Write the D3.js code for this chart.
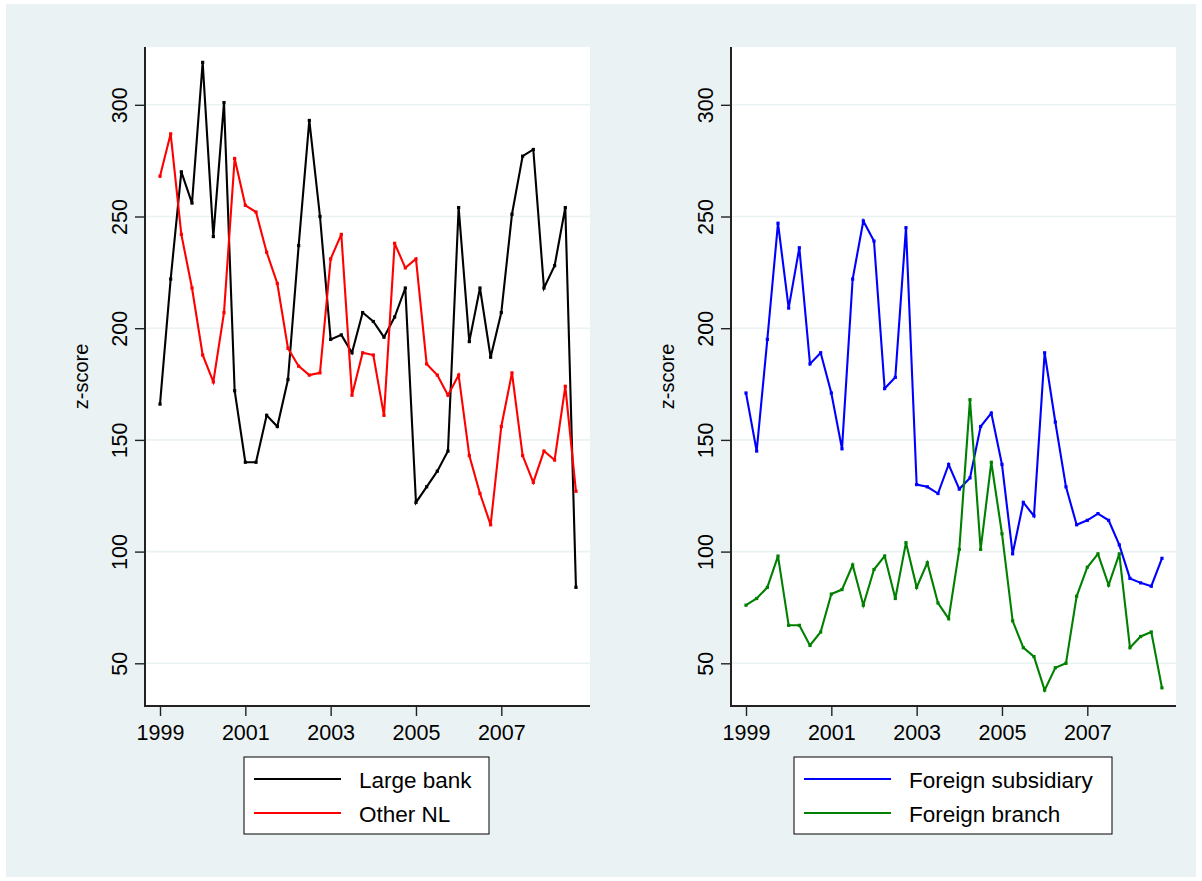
<!DOCTYPE html>
<html>
<head>
<meta charset="utf-8">
<script src="https://cdn.jsdelivr.net/npm/d3@7"></script>
<style>
  html, body { margin: 0; padding: 0; background: #ffffff; }
  svg { display: block; font-family: "Liberation Sans", Arial, Helvetica, sans-serif; }
</style>
</head>
<body>
<svg id="chart" width="1202" height="881"></svg>
<script>
// ---------------- DATA ----------------
const quarters = [
  "1999Q1","1999Q2","1999Q3","1999Q4","2000Q1","2000Q2","2000Q3","2000Q4",
  "2001Q1","2001Q2","2001Q3","2001Q4","2002Q1","2002Q2","2002Q3","2002Q4",
  "2003Q1","2003Q2","2003Q3","2003Q4","2004Q1","2004Q2","2004Q3","2004Q4",
  "2005Q1","2005Q2","2005Q3","2005Q4","2006Q1","2006Q2","2006Q3","2006Q4",
  "2007Q1","2007Q2","2007Q3","2007Q4","2008Q1","2008Q2","2008Q3","2008Q4"
];

const largeBank = [
  166, 222, 270, 256, 319, 241, 301, 172,
  140, 140, 161, 156, 177, 237, 293, 250,
  195, 197, 189, 207, 203, 196, 205, 218,
  122, 129, 136, 145, 254, 194, 218, 187,
  207, 251, 277, 280, 218, 228, 254, 84
];

const otherNL = [
  268, 287, 242, 218, 188, 176, 207, 276,
  255, 252, 234, 220, 191, 183, 179, 180,
  231, 242, 170, 189, 188, 161, 238, 227,
  231, 184, 179, 170, 179, 143, 126, 112,
  156, 180, 143, 131, 145, 141, 174, 127
];

const foreignSubsidiary = [
  171, 145, 195, 247, 209, 236, 184, 189,
  171, 146, 222, 248, 239, 173, 178, 245,
  130, 129, 126, 139, 128, 133, 156, 162,
  139, 99, 122, 116, 189, 158, 129, 112,
  114, 117, 114, 103, 88, 86, 84.5, 97
];

const foreignBranch = [
  76, 79, 84, 98, 67, 67, 58, 64,
  81, 83, 94, 76, 92, 98, 79, 104,
  84, 95, 77, 70, 101, 168, 101, 140,
  108, 69, 57, 53, 38, 48, 50, 80,
  93, 99, 85, 99, 57, 62, 64, 39
];

const yTicks = [50, 100, 150, 200, 250, 300];
const xTicks = [1999, 2001, 2003, 2005, 2007];
const yTitle = "z-score";

const panels = [
  { series: [
      { name: "Large bank", values: largeBank, color: "#000000" },
      { name: "Other NL", values: otherNL, color: "#ff0000" } ] },
  { series: [
      { name: "Foreign subsidiary", values: foreignSubsidiary, color: "#0000ff" },
      { name: "Foreign branch", values: foreignBranch, color: "#008000" } ] }
];

// ---------------- LAYOUT ----------------
const svg = d3.select("#chart");
const bg = "#eaf2f3";
const gridColor = "#eaf2f3";
const axisColor = "#222222";

svg.append("rect").attr("x", 6).attr("y", 4).attr("width", 1190).attr("height", 873)
  .attr("fill", bg);

const parseQ = s => +s.slice(0, 4) + (+s.slice(5) - 1) / 4;
const xVals = quarters.map(parseQ);

const plotTop = 47, plotBottom = 706, plotW = 445;
const panelX = [145, 731];
const legendBox = [
  { x: 244, w: 245 },
  { x: 794, w: 318 }
];

const y = d3.scaleLinear().domain([50, 300]).range([663.3, 104.8]);

panels.forEach((p, pi) => {
  const x0 = panelX[pi];
  const x = d3.scaleLinear().domain([1999, 2007]).range([x0 + 15, x0 + 15 + 341.3]);
  const g = svg.append("g");

  // plot region
  g.append("rect").attr("x", x0).attr("y", plotTop).attr("width", plotW)
    .attr("height", plotBottom - plotTop).attr("fill", "#ffffff");

  // gridlines
  g.selectAll(".grid").data(yTicks).join("line")
    .attr("x1", x0).attr("x2", x0 + plotW)
    .attr("y1", d => y(d)).attr("y2", d => y(d))
    .attr("stroke", gridColor).attr("stroke-width", 1.6);

  // y axis
  const yAxis = d3.axisLeft(y).tickValues(yTicks).tickSize(10).tickPadding(4);
  const ya = g.append("g").attr("transform", `translate(${x0},0)`).call(yAxis);
  ya.select(".domain").remove();
  ya.selectAll(".tick line").attr("stroke", axisColor).attr("stroke-width", 1.4);
  ya.selectAll(".tick text")
    .attr("transform", "rotate(-90)")
    .attr("x", 0).attr("y", -18)
    .attr("dy", 0)
    .attr("text-anchor", "middle")
    .attr("font-size", 21.5).attr("fill", "#000")
    .attr("font-family", "'Liberation Sans', Arial, Helvetica, sans-serif");
  g.append("line").attr("x1", x0).attr("x2", x0).attr("y1", plotTop).attr("y2", plotBottom + 1)
    .attr("stroke", axisColor).attr("stroke-width", 2);

  // x axis
  const xAxis = d3.axisBottom(x).tickValues(xTicks).tickFormat(d3.format("d")).tickSize(10).tickPadding(4);
  const xa = g.append("g").attr("transform", `translate(0,${plotBottom})`).call(xAxis);
  xa.select(".domain").remove();
  xa.selectAll(".tick line").attr("stroke", axisColor).attr("stroke-width", 1.4);
  xa.selectAll(".tick text")
    .attr("y", 34).attr("dy", 0)
    .attr("font-size", 21.5).attr("fill", "#000")
    .attr("font-family", "'Liberation Sans', Arial, Helvetica, sans-serif");
  g.append("line").attr("x1", x0 - 1).attr("x2", x0 + plotW).attr("y1", plotBottom).attr("y2", plotBottom)
    .attr("stroke", axisColor).attr("stroke-width", 2);

  // y title
  g.append("text")
    .attr("transform", `translate(${x0 - 57},${(plotTop + plotBottom) / 2}) rotate(-90)`)
    .attr("text-anchor", "middle")
    .attr("font-size", 20).attr("fill", "#000")
    .text(yTitle);

  // series
  const line = d3.line().x((d, i) => x(xVals[i])).y(d => y(d));
  p.series.forEach(s => {
    g.append("path").datum(s.values)
      .attr("d", line)
      .attr("fill", "none").attr("stroke", s.color)
      .attr("stroke-width", 2.1).attr("stroke-linejoin", "miter");
    g.selectAll(null).data(s.values).join("rect")
      .attr("x", (d, i) => x(xVals[i]) - 1.6)
      .attr("y", d => y(d) - 1.6)
      .attr("width", 3.2).attr("height", 3.2)
      .attr("fill", s.color);
  });

  // legend
  const lb = legendBox[pi];
  const lg = g.append("g");
  lg.append("rect").attr("x", lb.x).attr("y", 757).attr("width", lb.w).attr("height", 77)
    .attr("fill", "#ffffff").attr("stroke", "#000").attr("stroke-width", 1);
  p.series.forEach((s, si) => {
    const ly = 779 + si * 34;
    lg.append("line").attr("x1", lb.x + 10).attr("x2", lb.x + 97)
      .attr("y1", ly).attr("y2", ly)
      .attr("stroke", s.color).attr("stroke-width", 2.1);
    lg.append("text").attr("x", lb.x + 115).attr("y", ly + 9)
      .attr("font-size", 22.5).attr("fill", "#000")
      .text(s.name);
  });
});
</script>
</body>
</html>
